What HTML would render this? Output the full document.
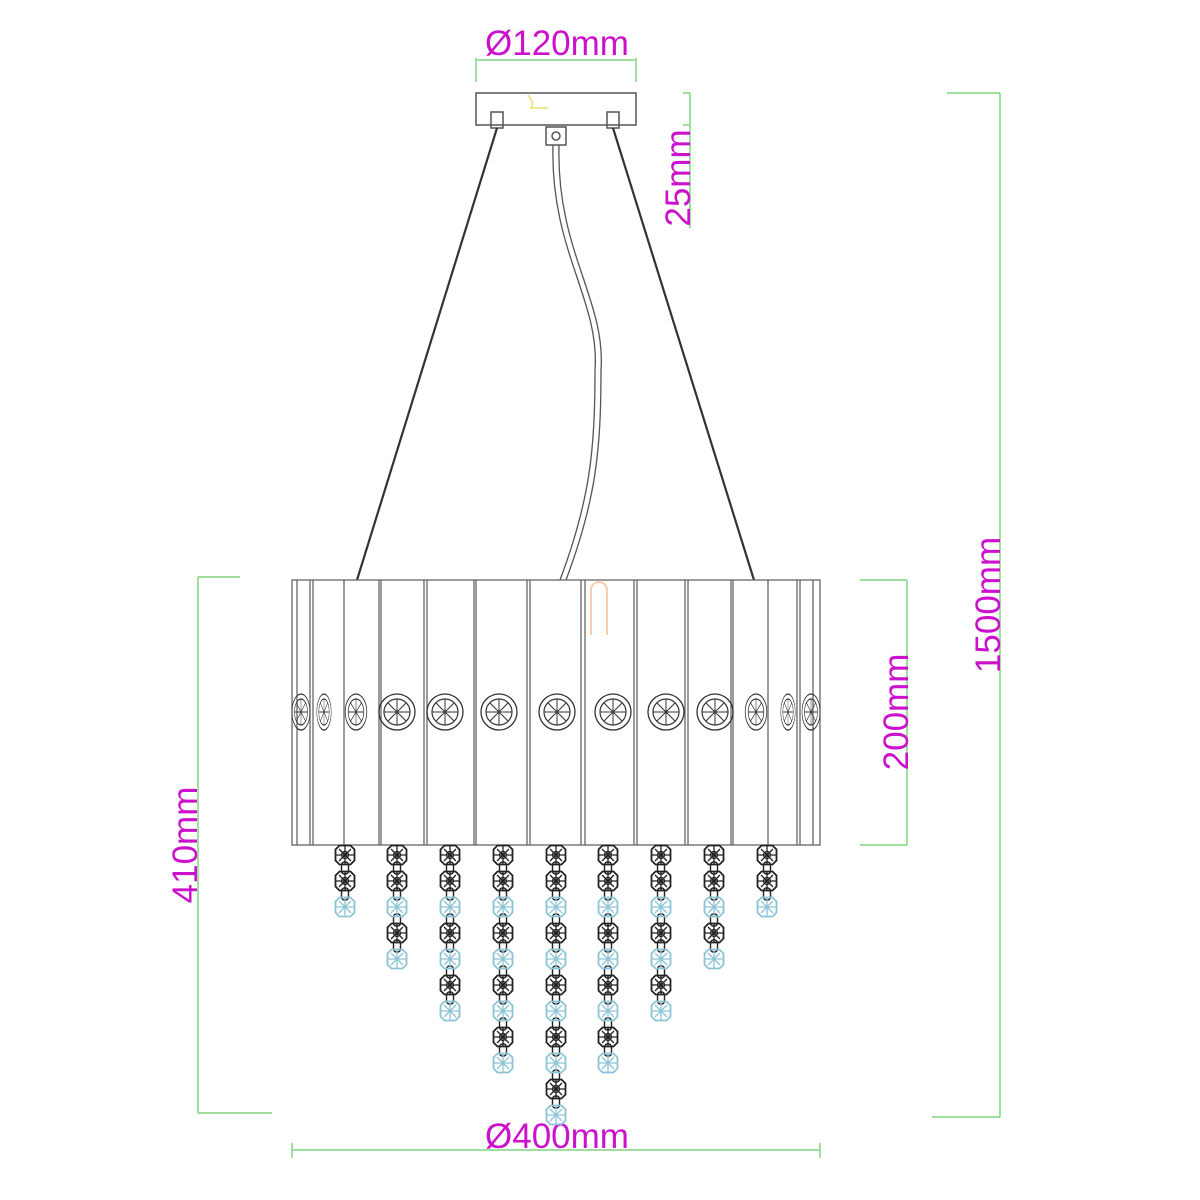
<!DOCTYPE html>
<html><head><meta charset="utf-8"><style>body{margin:0;background:#fff}svg{display:block}</style></head><body>
<svg width="1200" height="1200" viewBox="0 0 1200 1200" xmlns="http://www.w3.org/2000/svg">
<defs>
<g id="bd"><polygon points="-9.5,-5.5 -5.5,-9.5 5.5,-9.5 9.5,-5.5 9.5,5.5 5.5,9.5 -5.5,9.5 -9.5,5.5" fill="none" stroke="#222" stroke-width="1.8"/><path d="M-9,0H9M0,-9V9M-6,-6L6,6M6,-6L-6,6" stroke="#222" stroke-width="1.3"/><circle r="3.5" fill="none" stroke="#222" stroke-width="1.2"/></g>
<g id="bl"><polygon points="-9.5,-5.5 -5.5,-9.5 5.5,-9.5 9.5,-5.5 9.5,5.5 5.5,9.5 -5.5,9.5 -9.5,5.5" fill="none" stroke="#8cc4d6" stroke-width="1.8"/><path d="M-9,0H9M0,-9V9M-6,-6L6,6M6,-6L-6,6" stroke="#8cc4d6" stroke-width="1.3"/></g>
<g id="orn"><circle r="18" fill="none" stroke="#333" stroke-width="1.3"/><circle r="13" fill="none" stroke="#333" stroke-width="1.2"/><path d="M-13,0H13M0,-13V13M-9,-9L9,9M9,-9L-9,9" stroke="#333" stroke-width="1"/></g>
</defs>
<g fill="none" stroke="#7fd67f" stroke-width="1.5">
<path d="M476,60H636M476,58V82M636,58V82"/>
<path d="M690,93V228M683,93H690M683,125H690"/>
<path d="M1000,93V1117M947,93H1000M932,1117H1000"/>
<path d="M907,580V845M860,580H907M860,845H907"/>
<path d="M198,577V1113M198,577H240M198,1113H272"/>
<path d="M292,1150H820M292,1143V1158M820,1143V1158"/>
</g>
<g font-family="Liberation Sans, sans-serif" font-size="35" fill="#cc11cc">
<text x="557" y="55" text-anchor="middle">Ø120mm</text>
<text x="557" y="1148" text-anchor="middle">Ø400mm</text>
<text transform="translate(690,178) rotate(-90)" text-anchor="middle">25mm</text>
<text transform="translate(1000,605) rotate(-90)" text-anchor="middle">1500mm</text>
<text transform="translate(908,712) rotate(-90)" text-anchor="middle">200mm</text>
<text transform="translate(197,845) rotate(-90)" text-anchor="middle">410mm</text>
</g>
<g fill="none" stroke="#555" stroke-width="1.5">
<rect x="476" y="93" width="160" height="32" fill="#fff"/>
<rect x="491" y="112" width="12" height="16"/><rect x="607" y="112" width="12" height="16"/>
<rect x="546" y="127" width="20" height="18"/><circle cx="556" cy="136" r="4"/>
</g>
<path d="M528,95Q536,105 530,108H548" fill="none" stroke="#e8e070" stroke-width="1.5"/>
<path d="M497,128L357,580M613,128L754,580" stroke="#333" stroke-width="2.2"/>
<path d="M553,145C550,250 600,300 595,370C595,450 590,500 560,580" fill="none" stroke="#555" stroke-width="1.3"/>
<path d="M559,145C556,250 606,300 601,370C601,450 596,500 566,580" fill="none" stroke="#555" stroke-width="1.3"/>
<g fill="none" stroke="#666" stroke-width="1.3">
<rect x="292" y="580" width="528" height="265" fill="#fff"/>
<path d="M297,580V845M310,580V845M313,580V845M344,580V845M379,580V845M381,580V845M424,580V845M427,580V845M474,580V845M476,580V845M527,580V845M530,580V845M581,580V845M585,580V845M634,580V845M637,580V845M685,580V845M688,580V845M731,580V845M733,580V845M768,580V845M797,580V845M800,580V845M813,580V845"/>
</g>
<path d="M591,635V590a8,8 0 0 1 16,0V635" fill="none" stroke="#f8c8a8" stroke-width="1.8"/>
<g>
<use href="#orn" x="397" y="712"/><use href="#orn" x="445" y="712"/><use href="#orn" x="499" y="712"/><use href="#orn" x="557" y="712"/><use href="#orn" x="613" y="712"/><use href="#orn" x="666" y="712"/><use href="#orn" x="715" y="712"/>
<use href="#orn" x="356" y="712" transform="translate(356,712) scale(0.6,1) translate(-356,-712)"/>
<use href="#orn" x="756" y="712" transform="translate(756,712) scale(0.6,1) translate(-756,-712)"/>
<use href="#orn" x="324" y="712" transform="translate(324,712) scale(0.4,1) translate(-324,-712)"/>
<use href="#orn" x="788" y="712" transform="translate(788,712) scale(0.4,1) translate(-788,-712)"/>
<use href="#orn" x="301" y="712" transform="translate(301,712) scale(0.5,1) translate(-301,-712)"/>
<use href="#orn" x="811" y="712" transform="translate(811,712) scale(0.5,1) translate(-811,-712)"/>
</g>
<g id="strands"></g>
</svg>
<script>
(function(){
var xs=[345,397,450,503,556,608,661,714,767],ns=[3,5,7,9,11,9,7,5,3];
var g=document.getElementById('strands'),s='';
for(var i=0;i<9;i++){for(var k=0;k<ns[i];k++){var y=855+k*26;var t=(k==0||k==1||k%2==1)?'bd':'bl';
if(k<ns[i]-1)s+='<rect x="'+(xs[i]-3.5)+'" y="'+(y+7)+'" width="7" height="12" rx="3" fill="none" stroke="#222" stroke-width="1.4"/>';
s+='<use href="#'+t+'" x="'+xs[i]+'" y="'+y+'"/>';}}
g.innerHTML=s;})();
</script>
</body></html>
